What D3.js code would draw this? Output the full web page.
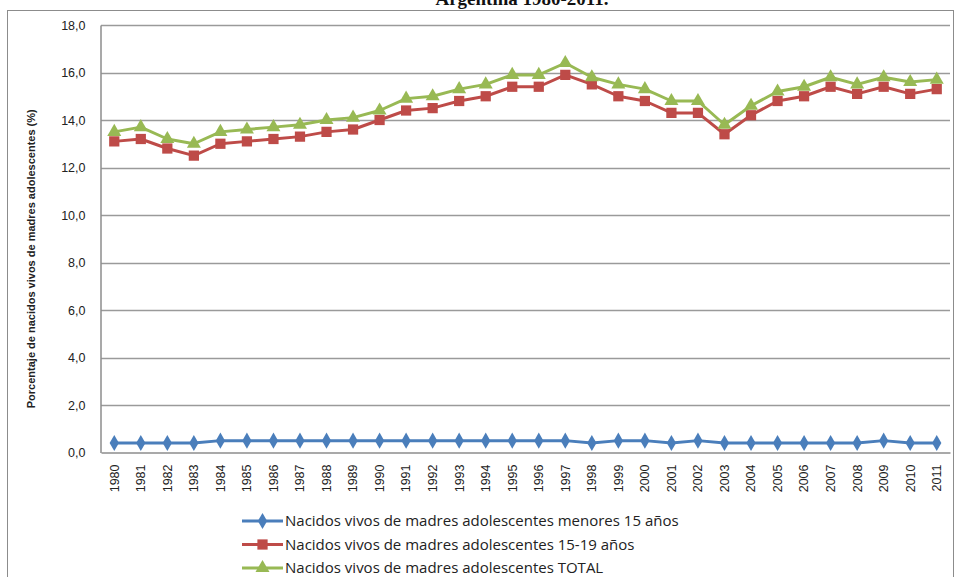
<!DOCTYPE html>
<html>
<head>
<meta charset="utf-8">
<script src="https://cdn.jsdelivr.net/npm/d3@7"></script>
<style>
  html, body { margin: 0; padding: 0; background: #fff; }
  svg { display: block; }
</style>
</head>
<body>
<svg id="chart" width="955" height="577"></svg>
<script>
// Years on the category axis
const years = ["1980","1981","1982","1983","1984","1985","1986","1987","1988","1989",
  "1990","1991","1992","1993","1994","1995","1996","1997","1998","1999",
  "2000","2001","2002","2003","2004","2005","2006","2007","2008","2009","2010","2011"];

// Share of live births to adolescent mothers (%)
const menores15 = [0.4,0.4,0.4,0.4,0.5,0.5,0.5,0.5,0.5,0.5,0.5,0.5,0.5,0.5,0.5,0.5,
  0.5,0.5,0.4,0.5,0.5,0.4,0.5,0.4,0.4,0.4,0.4,0.4,0.4,0.5,0.4,0.4];
const edad15a19 = [13.1,13.2,12.8,12.5,13.0,13.1,13.2,13.3,13.5,13.6,14.0,14.4,14.5,14.8,15.0,15.4,
  15.4,15.9,15.5,15.0,14.8,14.3,14.3,13.4,14.2,14.8,15.0,15.4,15.1,15.4,15.1,15.3];
const total = [13.5,13.7,13.2,13.0,13.5,13.6,13.7,13.8,14.0,14.1,14.4,14.9,15.0,15.3,15.5,15.9,
  15.9,16.4,15.8,15.5,15.3,14.8,14.8,13.8,14.6,15.2,15.4,15.8,15.5,15.8,15.6,15.7];

const yTicks = [0,2,4,6,8,10,12,14,16,18];

const seriesNames = [
  "Nacidos vivos de madres adolescentes menores 15 años",
  "Nacidos vivos de madres adolescentes 15-19 años",
  "Nacidos vivos de madres adolescentes TOTAL"
];

const series = [
  { name: seriesNames[0], values: menores15, color: "#4A7EBB", symbol: d3.symbolDiamond, size: 75 },
  { name: seriesNames[1], values: edad15a19, color: "#BE4B48", symbol: d3.symbolSquare, size: 105 },
  { name: seriesNames[2], values: total,     color: "#98B954", symbol: d3.symbolTriangle, size: 85 }
];

const svg = d3.select("#chart");
const plot = { left: 101, right: 950, top: 25, bottom: 452.5 };

const x = d3.scaleBand().domain(years).range([plot.left, plot.right]);
const y = d3.scaleLinear().domain([0, 18]).range([plot.bottom, plot.top]);
const fmt = v => d3.format(".1f")(v).replace(".", ",");

// Outer frame
svg.append("rect")
  .attr("x", 7.5).attr("y", 10.5).attr("width", 946).attr("height", 600)
  .attr("fill", "none").attr("stroke", "#8c8c8c").attr("stroke-width", 1);

// Title (partly above the frame)
svg.append("text")
  .attr("x", 522).attr("y", 5)
  .attr("text-anchor", "middle")
  .attr("font-family", "'Liberation Serif', 'DejaVu Serif', serif")
  .attr("font-weight", "bold")
  .attr("font-size", 19)
  .attr("fill", "#111")
  .text("Argentina 1980-2011.");

// Horizontal gridlines
svg.append("g")
  .selectAll("line")
  .data(yTicks.filter(t => t > 0))
  .join("line")
  .attr("x1", plot.left).attr("x2", plot.right)
  .attr("y1", d => Math.round(y(d)) + 0.5).attr("y2", d => Math.round(y(d)) + 0.5)
  .attr("stroke", "#9a9a9a").attr("stroke-width", 1.5);

// Y axis
const yAxis = svg.append("g")
  .attr("transform", `translate(${plot.left - 0.5},0)`)
  .call(d3.axisLeft(y).tickValues(yTicks).tickFormat(fmt).tickSize(0).tickPadding(15));
yAxis.select(".domain").attr("stroke", "#8c8c8c").attr("stroke-width", 1.5);
yAxis.selectAll("text")
  .attr("font-family", "'Liberation Sans', Arial, sans-serif")
  .attr("font-size", 12.5)
  .attr("fill", "#222");

// X axis
const xAxis = svg.append("g")
  .attr("transform", `translate(0,${plot.bottom})`)
  .call(d3.axisBottom(x).tickSize(0).tickPadding(0));
xAxis.select(".domain").attr("stroke", "#8c8c8c").attr("stroke-width", 1.5);
xAxis.selectAll("text")
  .attr("font-family", "'Liberation Sans', Arial, sans-serif")
  .attr("font-size", 12.5)
  .attr("fill", "#222")
  .attr("text-anchor", "end")
  .attr("transform", "translate(0,12) rotate(-90)")
  .attr("dx", 0)
  .attr("dy", "0.35em")
  .attr("y", 0)
  .attr("x", 0);

// Y axis title
svg.append("text")
  .attr("transform", `translate(35,${(plot.top + plot.bottom) / 2 + 20}) rotate(-90)`)
  .attr("text-anchor", "middle")
  .attr("font-family", "'Liberation Sans', Arial, sans-serif")
  .attr("font-weight", "bold")
  .attr("font-size", 11)
  .attr("fill", "#222")
  .text("Porcentaje de nacidos vivos de madres adolescentes (%)");

// Lines and markers
const line = d3.line()
  .x((d, i) => x(years[i]) + x.bandwidth() / 2)
  .y(d => y(d));

series.forEach(s => {
  svg.append("path")
    .datum(s.values)
    .attr("d", line)
    .attr("fill", "none")
    .attr("stroke", s.color)
    .attr("stroke-width", 3)
    .attr("stroke-linejoin", "round");
  svg.append("g")
    .selectAll("path")
    .data(s.values)
    .join("path")
    .attr("transform", (d, i) => `translate(${x(years[i]) + x.bandwidth() / 2},${y(d)})`)
    .attr("d", d3.symbol().type(s.symbol).size(s.size))
    .attr("fill", s.color);
});

// Legend
const legend = svg.append("g");
series.forEach((s, i) => {
  const ly = 521 + i * 23.5;
  legend.append("line")
    .attr("x1", 242).attr("x2", 283)
    .attr("y1", ly).attr("y2", ly)
    .attr("stroke", s.color).attr("stroke-width", 3);
  legend.append("path")
    .attr("transform", `translate(262.5,${ly})`)
    .attr("d", d3.symbol().type(s.symbol).size(s.size))
    .attr("fill", s.color);
  legend.append("text")
    .attr("x", 285).attr("y", ly)
    .attr("dy", "0.35em")
    .attr("font-family", "'Open Sans', 'Liberation Sans', sans-serif")
    .attr("font-size", 15)
    .attr("fill", "#222")
    .text(s.name);
});
</script>
</body>
</html>
